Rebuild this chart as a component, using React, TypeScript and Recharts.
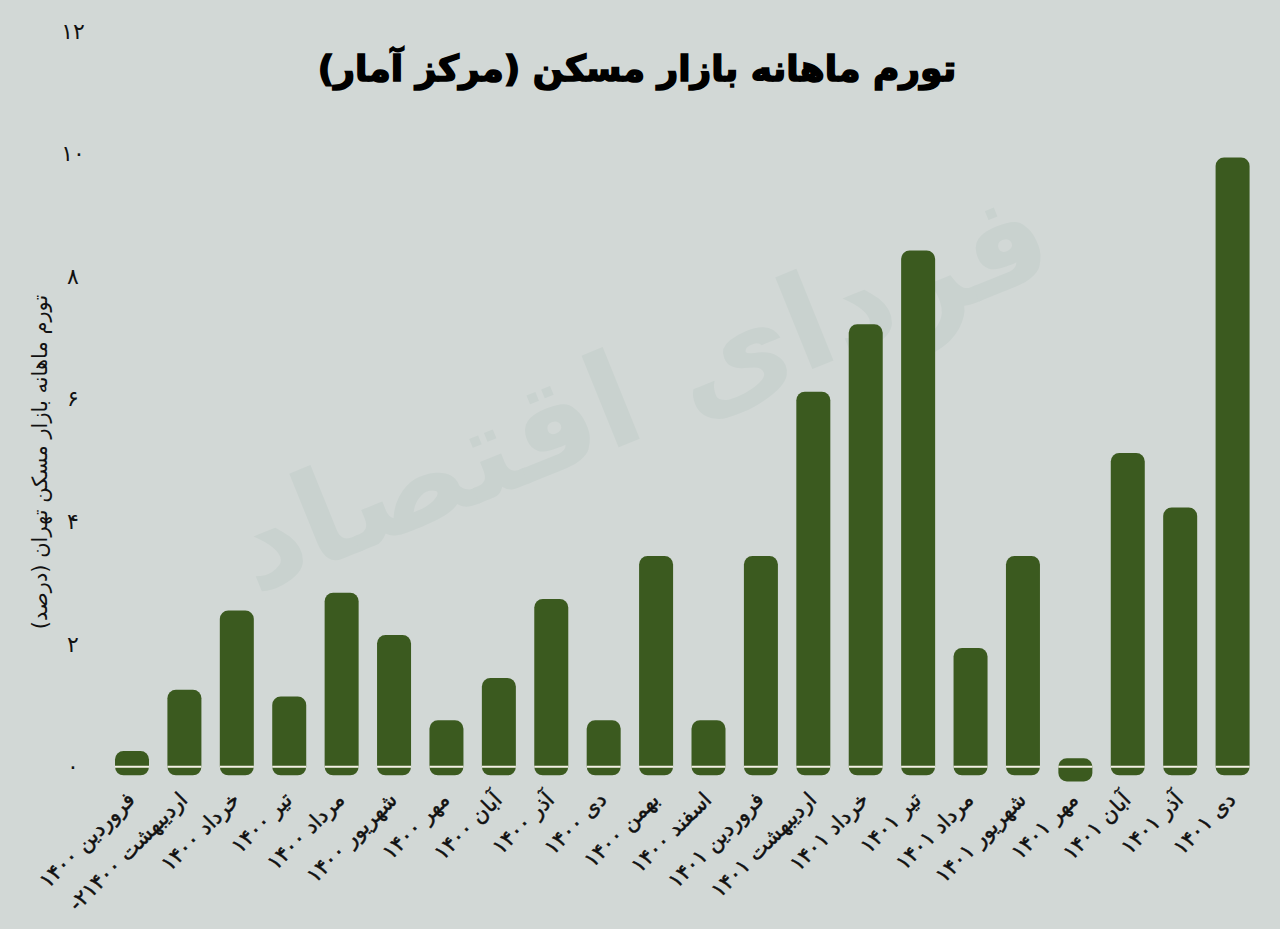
import React from 'react';
import { BarChart, Bar, XAxis, YAxis } from 'recharts';

// ماه‌ها (برچسب محور افقی)
const months = [
  'فروردین ۱۴۰۰',
  '-۲۱۴۰۰ اردیبهشت',
  'خرداد ۱۴۰۰',
  'تیر ۱۴۰۰',
  'مرداد ۱۴۰۰',
  'شهریور ۱۴۰۰',
  'مهر ۱۴۰۰',
  'آبان ۱۴۰۰',
  'آذر ۱۴۰۰',
  'دی ۱۴۰۰',
  'بهمن ۱۴۰۰',
  'اسفند ۱۴۰۰',
  'فروردین ۱۴۰۱',
  'اردیبهشت ۱۴۰۱',
  'خرداد ۱۴۰۱',
  'تیر ۱۴۰۱',
  'مرداد ۱۴۰۱',
  'شهریور ۱۴۰۱',
  'مهر ۱۴۰۱',
  'آبان ۱۴۰۱',
  'آذر ۱۴۰۱',
  'دی ۱۴۰۱',
];

// تورم ماهانه (درصد)
const inflation = [
  0.12, 1.12, 2.41, 1.01, 2.7, 2.01, 0.62, 1.31, 2.6, 0.62, 3.3,
  0.62, 3.3, 5.98, 7.08, 8.28, 1.8, 3.3, -0.1, 4.98, 4.09, 9.8,
];

const yTicks = [0, 2, 4, 6, 8, 10, 12];

const TITLE = 'تورم ماهانه بازار مسکن (مرکز آمار)';
const Y_LABEL = 'تورم ماهانه بازار مسکن تهران (درصد)';
const WATERMARK = 'فردای اقتصاد';

const BG = '#d2d8d6';
const BAR_COLOR = '#3b5a1f';
const FONT = '"DejaVu Sans", sans-serif';
const RADIUS = 8.5;

const data = months.map((month, i) => ({ month, value: inflation[i] }));

const toPersian = (v: number | string) =>
  String(v).replace(/\d/g, (d) => '۰۱۲۳۴۵۶۷۸۹'[Number(d)]);

const RoundBar = (props: any) => {
  const { x, y, width, height, payload } = props;
  const top = Math.min(y, y + height);
  const bottom = Math.max(y, y + height);
  const zeroY = payload.value < 0 ? top : bottom;
  return (
    <g>
      <rect
        x={x}
        y={top - RADIUS}
        width={width}
        height={bottom - top + 2 * RADIUS}
        rx={RADIUS}
        ry={RADIUS}
        fill={BAR_COLOR}
      />
      <line x1={x} x2={x + width} y1={zeroY} y2={zeroY} stroke="#f3f0e4" strokeWidth={2} />
    </g>
  );
};

const MonthTick = (props: any) => {
  const { x, y, payload } = props;
  const ax = x + 4;
  const ay = y + 22;
  return (
    <text
      x={ax}
      y={ay}
      transform={`rotate(-45, ${ax}, ${ay})`}
      textAnchor="end"
      fontFamily={FONT}
      fontSize={21}
      fill="#111"
      stroke="#111"
      strokeWidth={0.5}
    >
      {payload.value}
    </text>
  );
};

const ValueTick = (props: any) => {
  const { y, payload } = props;
  return (
    <text
      x={73}
      y={y}
      textAnchor="middle"
      dominantBaseline="central"
      fontFamily={FONT}
      fontSize={22}
      fill="#111"
    >
      {toPersian(payload.value)}
    </text>
  );
};

const App = () => {
  return (
    <div
      style={{
        position: 'absolute',
        left: 0,
        top: 0,
        width: 1280,
        height: 929,
        background: BG,
        overflow: 'hidden',
      }}
    >
      <svg width={1280} height={929} style={{ position: 'absolute', left: 0, top: 0 }}>
        <text
          x={640}
          y={390}
          transform="rotate(-22, 640, 390)"
          textAnchor="middle"
          dominantBaseline="central"
          fontFamily={FONT}
          fontWeight="bold"
          fontSize={130}
          fill="#c9d2cf"
        >
          {WATERMARK}
        </text>
        <text
          x={637}
          y={68}
          textAnchor="middle"
          dominantBaseline="central"
          fontFamily={FONT}
          fontWeight="bold"
          fontSize={36}
          fill="#000"
          stroke="#000"
          strokeWidth={1.6}
        >
          {TITLE}
        </text>
        <text
          x={40}
          y={462}
          transform="rotate(-90, 40, 462)"
          textAnchor="middle"
          dominantBaseline="central"
          fontFamily={FONT}
          fontSize={21}
          fill="#111"
        >
          {Y_LABEL}
        </text>
      </svg>
      <div style={{ position: 'absolute', left: 0, top: 0 }}>
        <BarChart
          width={1280}
          height={929}
          data={data}
          margin={{ top: 31, right: 21, left: 46, bottom: 0 }}
          barSize={34}
        >
          <XAxis
            dataKey="month"
            interval={0}
            height={156}
            axisLine={false}
            tickLine={false}
            tickMargin={0}
            tick={<MonthTick />}
          />
          <YAxis
            width={60}
            domain={[0, 12]}
            ticks={yTicks}
            axisLine={false}
            tickLine={false}
            tick={<ValueTick />}
          />
          <Bar dataKey="value" shape={<RoundBar />} isAnimationActive={false} />
        </BarChart>
      </div>
    </div>
  );
};

export default App;
